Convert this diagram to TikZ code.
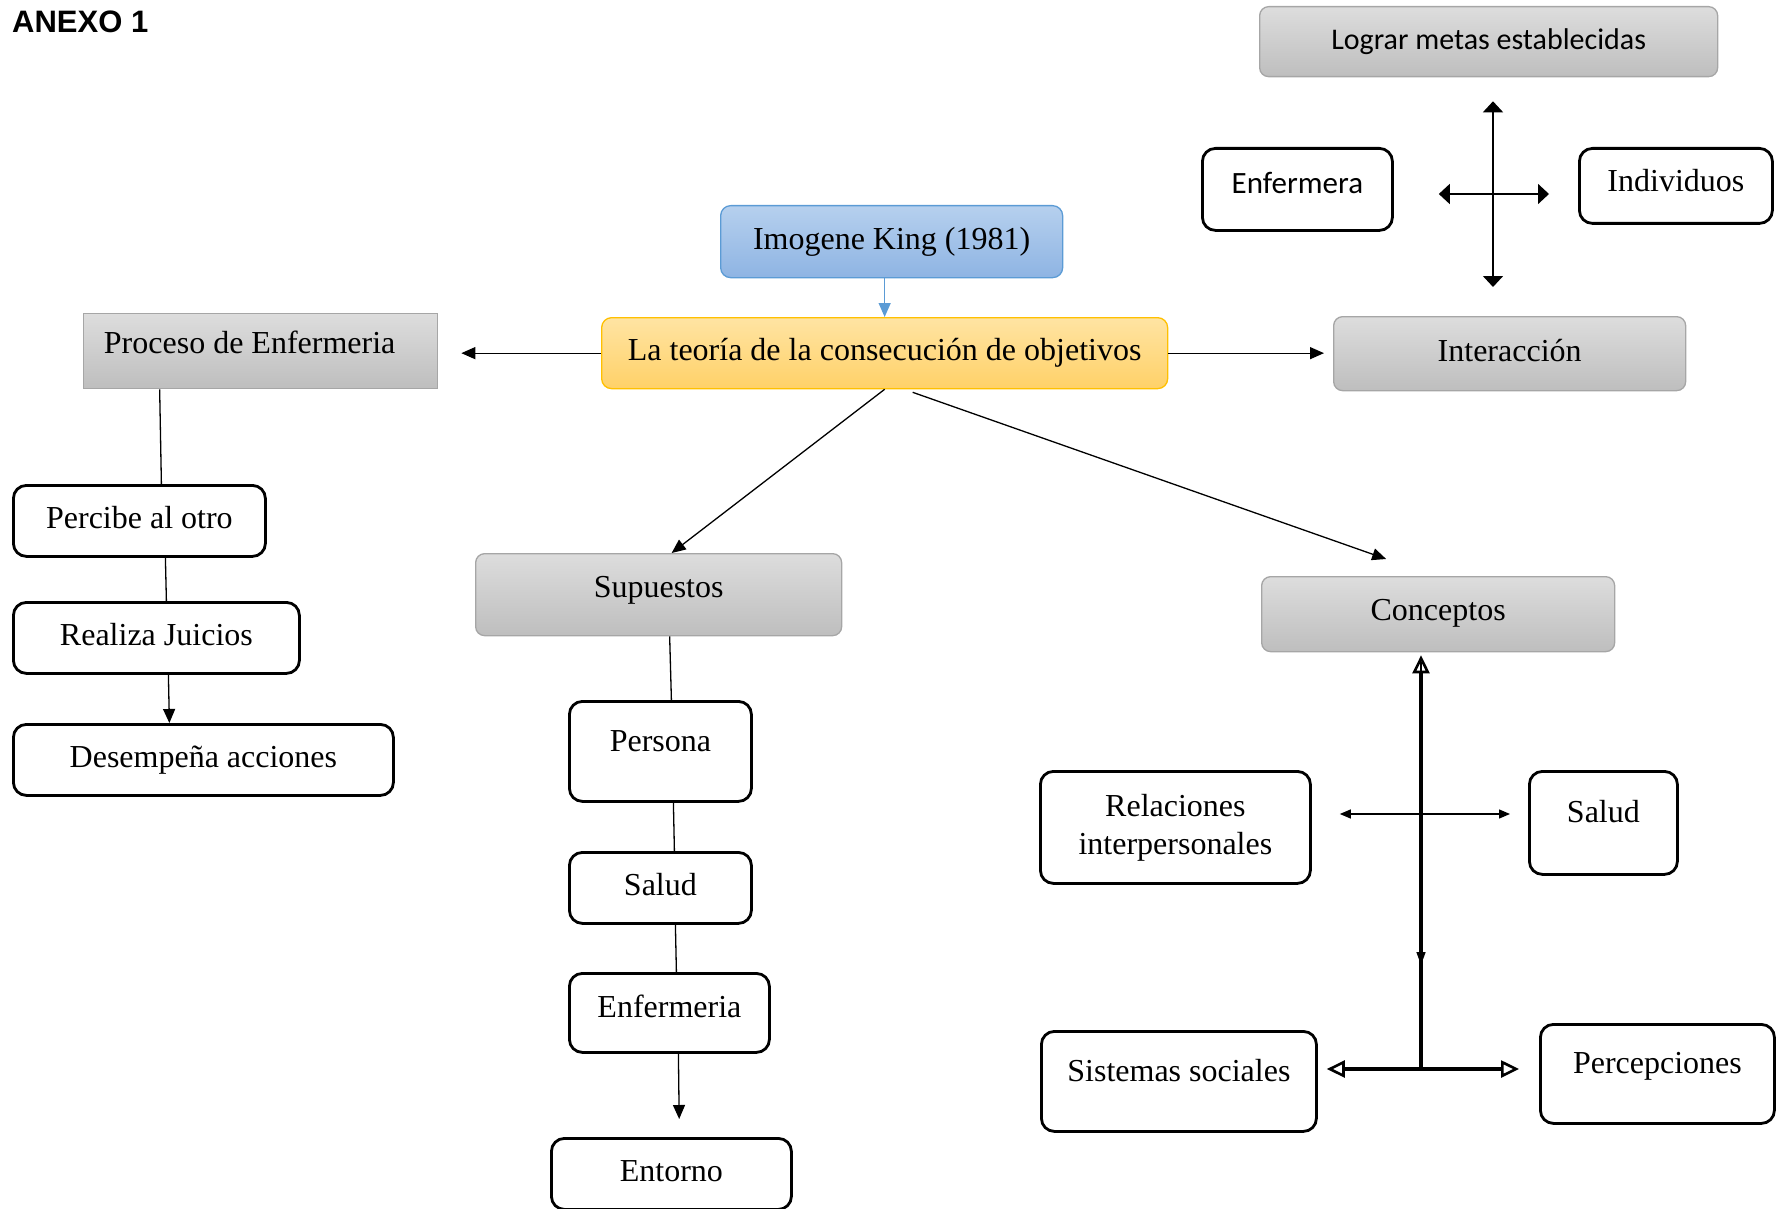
\documentclass[tikz,border=0pt]{standalone}
\usepackage{fontspec}
\setmainfont{Liberation Serif}
\newfontfamily\calibri{Carlito}
\newfontfamily\arial{Liberation Sans}
\usetikzlibrary{arrows.meta,calc}

\definecolor{grisA}{HTML}{DDDDDD}
\definecolor{grisB}{HTML}{BEBEBE}
\definecolor{bordegris}{HTML}{A6A6A6}
\definecolor{azulA}{HTML}{B6D0EE}
\definecolor{azulB}{HTML}{8EB4E3}
\definecolor{bordeazul}{HTML}{5B9BD5}
\definecolor{amarilloA}{HTML}{FFE4A3}
\definecolor{amarilloB}{HTML}{FFD168}
\definecolor{bordeamarillo}{HTML}{FFC000}

\begin{document}
\begin{tikzpicture}[x=1pt, y=-1pt,
	caja/.style={draw=black, line width=2.8pt, rounded corners=13pt, inner sep=0pt,
		anchor=north west, align=center, font=\fontsize{32}{38}\selectfont,
		text height=22pt, text depth=7pt},
	gris/.style={caja, draw=bordegris, line width=1.3pt, rounded corners=9pt,
		top color=grisA, bottom color=grisB},
	linea/.style={line width=1.3pt},
	flecha/.style={line width=1.3pt, -{Triangle[length=14pt,width=12pt]}},
	cruzada/.style={line width=1.6pt, {Triangle[length=11pt,width=20pt]}-{Triangle[length=11pt,width=20pt]}},
	abierta/.style={line width=4pt, -{Triangle[open,length=18pt,width=17pt,line width=2.6pt]}}
]

	\useasboundingbox (0,0) rectangle (1777,1209);

	\node[anchor=base west, inner sep=0pt, font=\arial\bfseries\fontsize{31}{37}\selectfont] (anexo) at (12,33) {ANEXO 1};

	% arriba a la derecha
	\node[gris, minimum width=458pt, minimum height=70pt, font=\calibri\fontsize{30}{36}\selectfont] (lograr) at (1259,6) {Lograr metas establecidas};
	\node[caja, minimum width=190pt, minimum height=82pt, text depth=13pt, font=\calibri\fontsize{31}{37}\selectfont] (enfermera) at (1201,147) {Enfermera};
	\node[caja, minimum width=193pt, minimum height=75pt, text depth=11pt] (individuos) at (1578,147) {Individuos};

	% centro
	\node[caja, draw=bordeazul, line width=1.3pt, rounded corners=10pt, top color=azulA, bottom color=azulB, minimum width=342pt, minimum height=72pt] (imogene) at (720,205) {Imogene King (1981)};
	\node[caja, draw=bordeamarillo, line width=1.3pt, rounded corners=10pt, top color=amarilloA, bottom color=amarilloB, minimum width=566pt, minimum height=71pt] (teoria) at (601,317) {La teoría de la consecución de objetivos};
	\node[gris, rounded corners=0pt, minimum width=354pt, minimum height=75pt, text depth=18pt] (proceso) at (83,313) {Proceso de Enfermeria\hspace*{22pt}};
	\node[gris, minimum width=352pt, minimum height=74pt] (interaccion) at (1333,316) {Interacción};

	% columna izquierda
	\node[caja, minimum width=252pt, minimum height=71pt] (percibe) at (12,484) {Percibe al otro};
	\node[caja, minimum width=286pt, minimum height=71pt] (realiza) at (12,601) {Realiza Juicios};
	\node[caja, minimum width=380pt, minimum height=71pt] (desempena) at (12,723) {Desempeña acciones};

	% columna del medio
	\node[gris, minimum width=366pt, minimum height=82pt, text depth=17pt] (supuestos) at (475,553) {Supuestos};
	\node[caja, minimum width=182pt, minimum height=100pt, text depth=21pt] (persona) at (568,700) {Persona};
	\node[caja, minimum width=182pt, minimum height=71pt] (saludA) at (568,851) {Salud};
	\node[caja, minimum width=200pt, minimum height=79pt, text depth=12pt] (enfermeria) at (568,972) {Enfermeria};
	\node[caja, minimum width=240pt, minimum height=71pt] (entorno) at (550,1137) {Entorno};

	% conceptos
	\node[gris, minimum width=353pt, minimum height=75pt, text depth=10pt] (conceptos) at (1261,576) {Conceptos};
	\node[caja, minimum width=270pt, minimum height=112pt, text height={}, text depth={}] (relaciones) at (1039,770) {Relaciones\\interpersonales};
	\node[caja, minimum width=148pt, minimum height=103pt, text depth=22pt] (saludB) at (1528,770) {Salud};
	\node[caja, minimum width=275pt, minimum height=100pt, text depth=21pt] (sistemas) at (1040,1030) {Sistemas sociales};
	\node[caja, minimum width=234pt, minimum height=99pt, text depth=22pt] (percepciones) at (1539,1023) {Percepciones};

	% conectores
	\draw[flecha, draw=bordeazul] (teoria.north |- imogene.south) -- (teoria.north);
	\draw[flecha, shorten >=23pt] (teoria.west) -- (teoria.west -| proceso.east);
	\draw[flecha, shorten >=9pt] (teoria.east) -- (teoria.east -| interaccion.west);
	\draw[flecha] (teoria.south) -- ([xshift=13pt]supuestos.north);
	\draw[flecha] ([xshift=28pt,yshift=-3pt]teoria.south) -- ([xshift=-52pt,yshift=17pt]conceptos.north);

	\draw[linea] ([xshift=-101pt]proceso.south) -- ([xshift=22pt]percibe.north);
	\draw[linea] ([xshift=26pt]percibe.south) -- ([xshift=10pt]realiza.north);
	\draw[flecha] ([xshift=12pt]realiza.south) -- ([xshift=-34pt]desempena.north);

	\draw[linea] ([xshift=11pt]supuestos.south) -- ([xshift=11pt]persona.north);
	\draw[linea] ([xshift=13pt]persona.south) -- ([xshift=14pt]saludA.north);
	\draw[linea] ([xshift=15pt]saludA.south) -- ([xshift=7pt]enfermeria.north);
	\draw[flecha, shorten >=18pt] ([xshift=9pt]enfermeria.south) -- ([xshift=8pt]entorno.north);

	% cruz de arriba
	\coordinate (cruz) at (1493,194);
	\draw[cruzada, shorten <=24pt, shorten >=29pt] (cruz |- lograr.south) -- (cruz |- interaccion.north);
	\draw[cruzada, shorten <=45pt, shorten >=29pt] (cruz -| enfermera.east) -- (cruz -| individuos.west);

	% cruz de abajo
	\coordinate (centro) at (1421,1069);
	\coordinate (medio) at (1421,814);
	\draw[abierta, shorten >=3pt] (centro) -- (centro |- conceptos.south);
	\draw[line width=1.5pt, -{Triangle[length=13pt,width=9pt]}, shorten <=10pt, shorten >=104pt] (centro |- conceptos.south) -- (centro);
	\draw[abierta, shorten >=9pt] (centro) -- (centro -| sistemas.east);
	\draw[abierta, shorten >=20pt] (centro) -- (centro -| percepciones.west);
	\draw[line width=1.3pt, {Triangle[length=11pt,width=9pt]}-{Triangle[length=11pt,width=9pt]}, shorten <=28pt, shorten >=18pt] (medio -| relaciones.east) -- (medio -| saludB.west);

\end{tikzpicture}
\end{document}
